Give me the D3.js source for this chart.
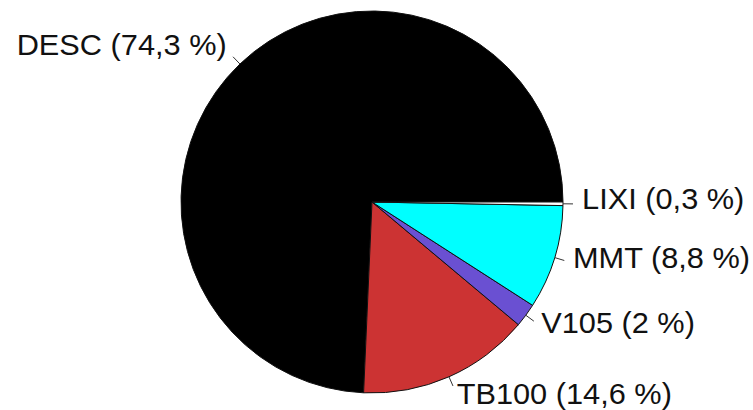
<!DOCTYPE html>
<html>
<head>
<meta charset="utf-8">
<script src="https://cdn.jsdelivr.net/npm/d3@7"></script>
<style>
  body { margin: 0; background: #fff; }
  svg { display: block; }
  text { font-family: "Liberation Sans", Arial, sans-serif; font-size: 29px; fill: #111; }
</style>
</head>
<body>
<div id="drawhere"></div>
<script>
// slices, counter-clockwise from 3 o'clock
const categories = ["DESC", "TB100", "V105", "MMT", "LIXI"];
const shares = [74.3, 14.6, 2, 8.8, 0.3];
const shareLabels = ["74,3", "14,6", "2", "8,8", "0,3"];
const colors = ["#000000", "#cc3333", "#6a50d2", "#00ffff", "#ffffff"];

const width = 753;
const height = 410;
const cx = 372, cy = 202, radius = 191;

const data = categories.map(function (c, i) {
  return { name: c, value: shares[i], label: shareLabels[i], color: colors[i] };
});

const svg = d3.select("#drawhere").append("svg")
  .attr("width", width)
  .attr("height", height);

const g = svg.append("g").attr("transform", `translate(${cx},${cy})`);

// start at 3 o'clock and go the other way round
const pie = d3.pie()
  .sort(null)
  .value(function (d) { return d.value; })
  .startAngle(Math.PI / 2)
  .endAngle(Math.PI / 2 - 2 * Math.PI);

const arc = d3.arc().innerRadius(0).outerRadius(radius);
const arcs = pie(data);

g.selectAll("path.slice")
  .data(arcs)
  .join("path")
  .attr("class", "slice")
  .attr("d", arc)
  .attr("fill", function (d) { return d.data.color; })
  .attr("stroke", "#111")
  .attr("stroke-width", 1)
  .attr("stroke-linejoin", "round");

function dir(d) {
  const a = (d.startAngle + d.endAngle) / 2;
  return [Math.sin(a), -Math.cos(a)];
}

// little leader ticks
g.selectAll("line.tick")
  .data(arcs)
  .join("line")
  .attr("class", "tick")
  .attr("x1", function (d) { return dir(d)[0] * radius; })
  .attr("y1", function (d) { return dir(d)[1] * radius; })
  .attr("x2", function (d) { return dir(d)[0] * (radius + 10); })
  .attr("y2", function (d) { return dir(d)[1] * (radius + 10); })
  .attr("stroke", "#333")
  .attr("stroke-width", 1);

g.selectAll("g.lab")
  .data(arcs)
  .join("g")
  .attr("class", "lab")
  .attr("transform", function (d) {
    const v = dir(d);
    const x = v[0] * radius * 1.1;
    // labels near the bottom hang a bit lower
    const y = v[1] * radius * 1.1 + 5 + 12 * Math.max(0, v[1] - 0.5);
    return `translate(${x},${y}) scale(1.06,1)`;
  })
  .append("text")
  .attr("text-anchor", function (d) { return dir(d)[0] < 0 ? "end" : "start"; })
  .text(function (d) { return `${d.data.name} (${d.data.label} %)`; });
</script>
</body>
</html>
